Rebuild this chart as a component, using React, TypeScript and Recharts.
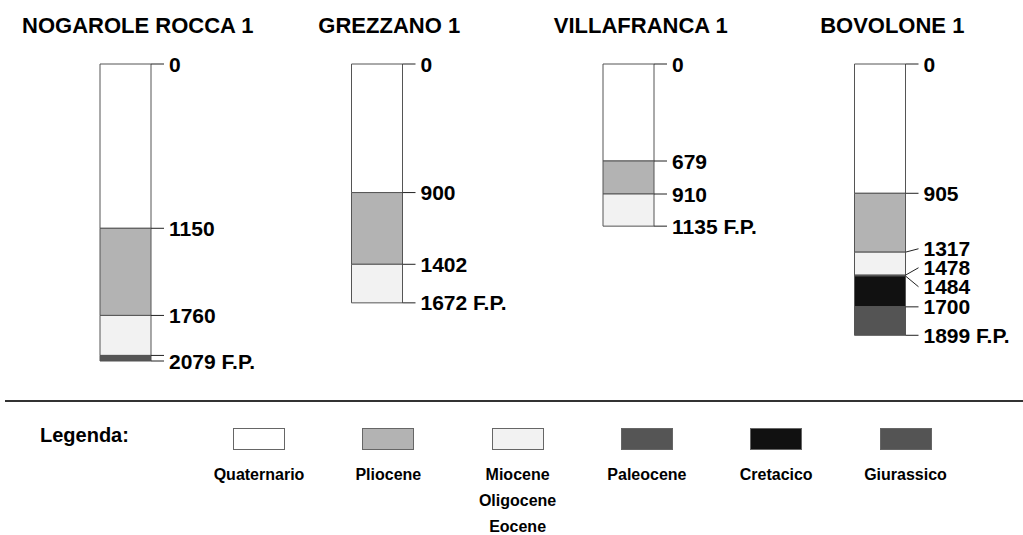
import React from 'react';
import { BarChart, Bar, XAxis, YAxis, LabelList, Legend } from 'recharts';

const FONT = '"Liberation Sans", Arial, sans-serif';

// pozzi
const wells = ['NOGAROLE ROCCA 1', 'GREZZANO 1', 'VILLAFRANCA 1', 'BOVOLONE 1'];

// spessori (m) per formazione, un valore per pozzo
const quaternario = [1150, 900, 679, 905];
const pliocene = [610, 502, 231, 412];
const miocene = [280, 270, 225, 161];
const paleocene = [39, 0, 0, 6];
const cretacico = [0, 0, 0, 216];
const giurassico = [0, 0, 0, 199];

// profondita' scritte accanto alle colonne
const depthLabels = [
  [0, 1150, 1760, 2079],
  [0, 900, 1402, 1672],
  [0, 679, 910, 1135],
  [0, 905, 1317, 1478, 1484, 1700, 1899],
];

const formationKeys = ['q', 'p', 'm', 'pal', 'cre', 'giu'];
const formationNames = ['Quaternario', 'Pliocene', 'Miocene\nOligocene\nEocene', 'Paleocene', 'Cretacico', 'Giurassico'];
const formationColors = ['#ffffff', '#b3b3b3', '#f2f2f2', '#555555', '#111111', '#545454'];
const series = [quaternario, pliocene, miocene, paleocene, cretacico, giurassico];

const data = wells.map((well, i) => {
  const row: any = { well };
  formationKeys.forEach((k, j) => (row[k] = series[j][i]));
  return row;
});

const spread = (ys: number[], gap: number) => {
  const out = [...ys];
  for (let it = 0; it < 200; it++) {
    for (let k = 1; k < out.length; k++) {
      const d = out[k] - out[k - 1];
      if (d < gap) {
        const s = (gap - d) / 2;
        out[k - 1] -= s;
        out[k] += s;
      }
    }
  }
  return out;
};

// disegna tacche e quote di un pozzo, usando la scala ricavata dalla barra del Quaternario
const DepthTicks = (props: any) => {
  const { index } = props;
  const vb = props.viewBox || props;
  const x = Number(vb.x);
  const width = Math.abs(Number(vb.width));
  const h = Number(vb.height);
  if (index == null || !h) return null;
  // asse rovesciato: l'altezza puo' arrivare negativa
  const top = Math.min(Number(vb.y), Number(vb.y) + h);
  const pxPerM = Math.abs(h) / quaternario[index];
  const right = Math.max(x, x + Number(vb.width)) ;
  let cum = 0;
  const bounds = [0];
  series.forEach((s) => {
    if (s[index] > 0) {
      cum += s[index];
      bounds.push(cum);
    }
  });
  const total = cum;
  const labelled = depthLabels[index];
  const ys = labelled.map((d) => top + d * pxPerM);
  const ly = spread(ys, 19);
  return (
    <g>
      {bounds
        .filter((d) => !labelled.includes(d))
        .map((d) => (
          <line key={'b' + d} x1={right} x2={right + 13} y1={top + d * pxPerM} y2={top + d * pxPerM} stroke="#222" />
        ))}
      {labelled.map((d, k) => (
        <g key={d}>
          <line x1={right} x2={right + 13} y1={ys[k]} y2={ly[k]} stroke="#222" />
          <text
            x={right + 18}
            y={ly[k]}
            dominantBaseline="central"
            fontFamily={FONT}
            fontWeight="bold"
            fontSize={21}
            fill="#000"
          >
            {d === total ? `${d} F.P.` : d}
          </text>
        </g>
      ))}
    </g>
  );
};

const WellTitle = (props: any) => {
  const { x, payload } = props;
  return (
    <text x={x + 12} y={33} textAnchor="middle" fontFamily={FONT} fontWeight="bold" fontSize={22} fill="#000">
      {payload.value}
    </text>
  );
};

const LegendBlock = () => (
  <div style={{ position: 'relative', width: 1023, height: 174, fontFamily: FONT, color: '#000' }}>
    <div style={{ position: 'absolute', left: 5, top: 39, width: 1018, borderTop: '2px solid #333' }} />
    <div style={{ position: 'absolute', left: 40, top: 62, fontSize: 20, fontWeight: 'bold', lineHeight: '24px' }}>
      Legenda:
    </div>
    {formationNames.map((name, i) => (
      <div
        key={name}
        style={{ position: 'absolute', left: 259 + i * 129.3 - 60, top: 67, width: 120, textAlign: 'center' }}
      >
        <div
          style={{
            width: 52,
            height: 22,
            margin: '0 auto',
            background: formationColors[i],
            border: '1px solid #666',
            boxSizing: 'border-box',
          }}
        />
        <div style={{ marginTop: 12, fontSize: 16, fontWeight: 'bold', lineHeight: '26px', whiteSpace: 'pre-line' }}>
          {name}
        </div>
      </div>
    ))}
  </div>
);

const App = () => (
  <div style={{ position: 'absolute', left: 0, top: 0, background: '#fff' }}>
    <BarChart width={1023} height={535} data={data} margin={{ top: 34, right: 17, bottom: 0, left: 0 }} barSize={51}>
      <XAxis
        dataKey="well"
        orientation="top"
        height={30}
        axisLine={false}
        tickLine={false}
        tick={<WellTitle />}
        interval={0}
      />
      <YAxis hide reversed domain={[0, 2079]} type="number" />
      <Legend verticalAlign="bottom" content={() => <LegendBlock />} />
      {formationKeys.map((k, j) => (
        <Bar
          key={k}
          dataKey={k}
          name={formationNames[j]}
          stackId="well"
          fill={formationColors[j]}
          stroke="#555"
          strokeWidth={1}
          isAnimationActive={false}
        >
          {j === 0 ? <LabelList dataKey="q" content={<DepthTicks />} /> : null}
        </Bar>
      ))}
    </BarChart>
  </div>
);

export default App;
